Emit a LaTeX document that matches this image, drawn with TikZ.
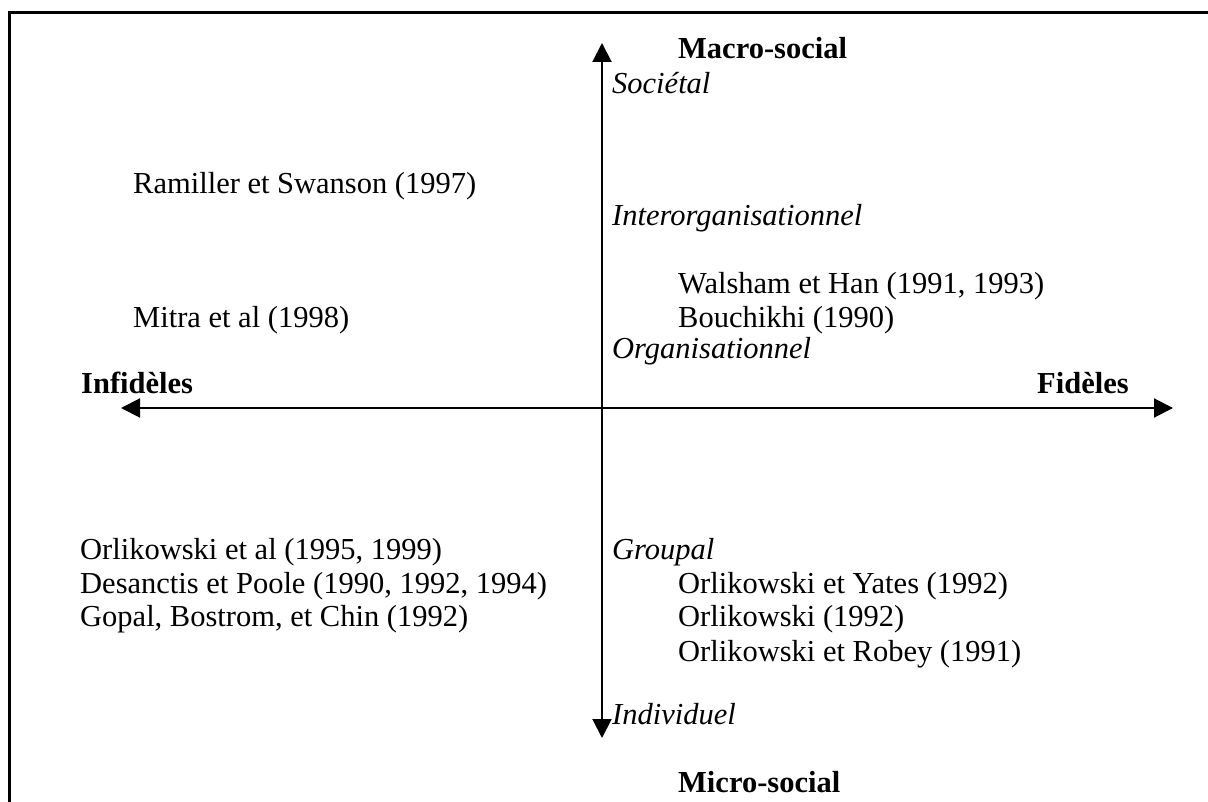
\documentclass[tikz,border=0pt]{standalone}
\usepackage{fontspec}
\setmainfont{Liberation Serif}
\usetikzlibrary{arrows.meta,positioning}

\begin{document}
\begin{tikzpicture}[
        x=1pt, y=-1pt,
        every node/.style={font=\fontsize{30.5pt}{34pt}\selectfont, inner sep=0pt, anchor=base west},
        ref/.style={},
        lvl/.style={font=\fontsize{30.5pt}{34pt}\selectfont\itshape},
        pole/.style={font=\fontsize{30.5pt}{34pt}\selectfont\bfseries},
        axe/.style={-{Triangle[length=19pt,width=19pt]}, line width=2pt, black},
        cadre/.style={line width=3pt, black}
      ]
        \useasboundingbox (0,0) rectangle (1208,802);

        % Frame (top and left edges only)
        \coordinate (fbl) at (9,802);
        \coordinate (ftl) at (9,13);
        \coordinate (ftr) at (1208,13);
        \draw[cadre] (fbl) -- (ftl) -- (ftr);

        % Axes
        \coordinate (centre) at (602,408);
        \coordinate (haut)   at (602,43);
        \coordinate (bas)    at (602,738);
        \coordinate (gauche) at (121,408);
        \coordinate (droite) at (1173,408);
        \draw[axe] (centre) -- (haut);
        \draw[axe] (centre) -- (bas);
        \draw[axe] (centre) -- (gauche);
        \draw[axe] (centre) -- (droite);

        % Poles
        \node[pole] (macro)  at (678,59)  {Macro-social};
        \node[pole] (micro)  at (678,792) {Micro-social};
        \node[pole] (infid)  at (81,394)  {Infidèles};
        \node[pole] (fid)    at (1037,394) {Fidèles};

        % Levels
        \node[lvl] (soc)    at (612,94)  {Sociétal};
        \node[lvl] (inter)  at (612,226) {Interorganisationnel};
        \node[lvl] (org)    at (612,359) {Organisationnel};
        \node[lvl] (grp)    at (612,559) {Groupal};
        \node[lvl] (indiv)  at (612,724) {Individuel};

        % Upper left
        \node[ref] (ramiller) at (133,194) {Ramiller et Swanson (1997)};
        \node[ref] (mitra)    at (133,328) {Mitra et al (1998)};

        % Upper right
        \node[ref] (walsham)  at (678,294) {Walsham et Han (1991, 1993)};
        \node[ref] (bouch)    at (678,328) {Bouchikhi (1990)};

        % Lower left
        \node[ref] (orletal)  at (80,559) {Orlikowski et al (1995, 1999)};
        \node[ref] (desanct)  at (80,593) {Desanctis et Poole (1990, 1992, 1994)};
        \node[ref] (gopal)    at (80,626) {Gopal, Bostrom, et Chin (1992)};

        % Lower right
        \node[ref] (orlyates) at (678,593) {Orlikowski et Yates (1992)};
        \node[ref] (orl)      at (678,626) {Orlikowski (1992)};
        \node[ref] (orlrobey) at (678,661) {Orlikowski et Robey (1991)};

      \end{tikzpicture}
\end{document}
